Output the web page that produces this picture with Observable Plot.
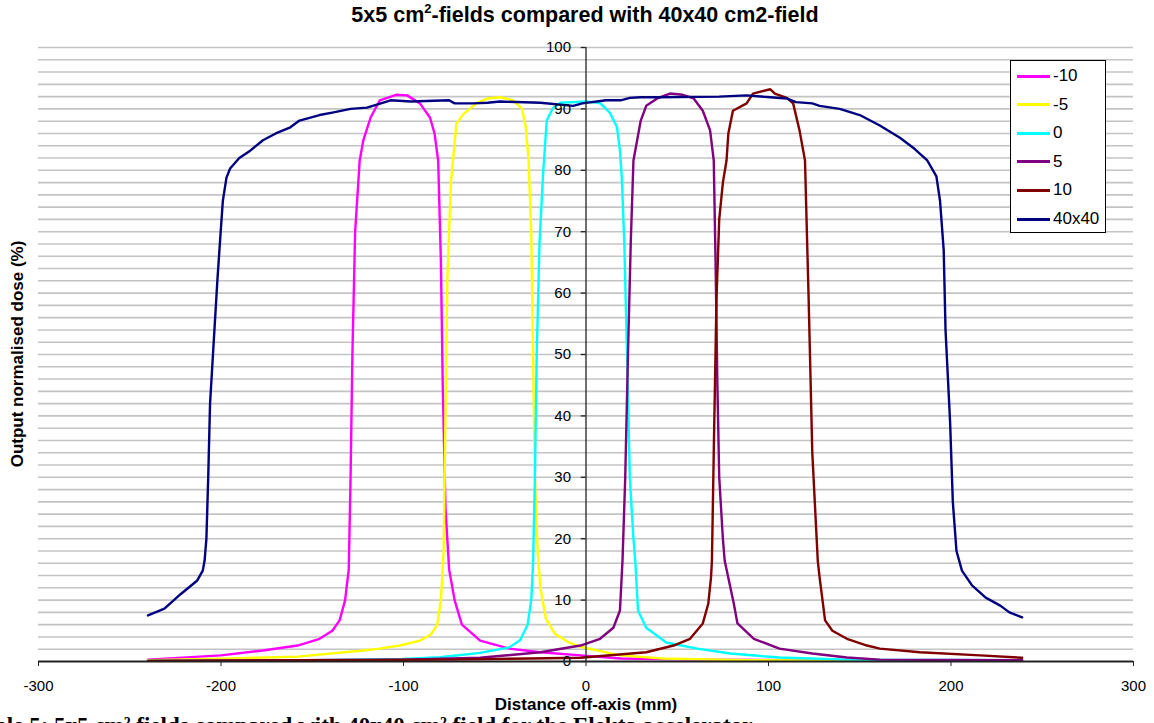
<!DOCTYPE html>
<html><head><meta charset="utf-8">
<script src="https://cdn.jsdelivr.net/npm/d3@7"></script>
<script src="https://cdn.jsdelivr.net/npm/@observablehq/plot@0.6"></script>
<style>
html,body{margin:0;padding:0;background:#fff;}
body{width:1154px;height:723px;overflow:hidden;font-family:"Liberation Sans",Arial,sans-serif;}
#wrap{position:relative;width:1154px;height:723px;overflow:hidden;}
#chart{position:absolute;left:0;top:0;}
#title{position:absolute;left:585px;top:3px;transform:translateX(-50%);font-weight:bold;font-size:21.5px;white-space:nowrap;color:#000;}
#title sup{font-size:13px;vertical-align:9px;line-height:0;}
#xlabel{position:absolute;left:586px;top:704px;transform:translate(-50%,-50%);font-weight:bold;font-size:17px;line-height:17px;white-space:nowrap;}
#ylabel{position:absolute;left:18px;top:354px;transform:translate(-50%,-50%) rotate(-90deg);font-weight:bold;font-size:17px;white-space:nowrap;}
#legend{position:absolute;left:1010px;top:60px;width:94px;height:171px;border:1px solid #000;background:#fff;box-sizing:content-box;}
.lrow{position:absolute;left:0;height:20px;display:flex;align-items:center;}
.lline{width:33px;height:3px;margin-left:6px;margin-right:3px;}
.ltext{font-size:17px;line-height:20px;}
#caption{position:absolute;left:-6px;top:714px;font-family:"Liberation Serif","DejaVu Serif",serif;font-weight:bold;font-size:23px;line-height:23px;white-space:nowrap;}
</style></head><body>
<div id="wrap">
<div id="chart"></div>
<div id="title">5x5 cm<sup>2</sup>-fields compared with 40x40 cm2-field</div>
<div id="caption">ble 5: 5x5 cm² fields compared with 40x40 cm² field for the Elekta accelerator</div>
<div id="xlabel">Distance off-axis (mm)</div>
<div id="ylabel">Output normalised dose (%)</div>
<div id="legend"></div>
</div>
<script>
// Series names and colours
const seriesNames = ["-10", "-5", "0", "5", "10", "40x40"];
const seriesColors = ["#ff00ff", "#ffff00", "#00ffff", "#800080", "#800000", "#000080"];

// Tick labels
const xTicks = [-300, -200, -100, 0, 100, 200, 300];
const yTicks = [0, 10, 20, 30, 40, 50, 60, 70, 80, 90, 100];
const yGrid = [2,4,6,8,10,12,14,16,18,20,22,24,26,28,30,32,34,36,38,40,42,44,46,48,50,52,54,56,58,60,62,64,66,68,70,72,74,76,78,80,82,84,86,88,90,92,94,96,98,100];

// -10 (magenta)
const xM10 = [-240,-200,-177,-158,-146,-139,-135,-132,-130,-129,-128,-126.5,-124,-122,-118,-113,-104,-98,-91,-85.5,-83,-81,-79.5,-78.5,-77,-75,-72,-68,-58,-42,-25,-3,19,62,117,239];
const yM10 = [0.3,1.0,1.8,2.6,3.7,5,6.7,10,15,30,50,70,81.6,84.9,88.6,91.4,92.3,92.2,90.9,88.6,86,81.6,65,45,25,15,10,6,3.4,2.1,1.5,1.0,0.5,0.3,0.2,0.1];

// -5 (yellow)
const xM5 = [-240,-195,-158,-122,-113,-102,-91,-85,-81.5,-79.5,-78,-77,-76,-74,-71,-67,-60,-54,-47,-40,-35,-33,-31.5,-30,-29,-28,-26.5,-25,-22,-17,-10,-3,6,19,42,88,150,239];
const yM5 = [0.2,0.5,0.8,1.8,2.1,2.6,3.4,4.4,6,10,18,40,62,78,87.6,89.2,90.9,91.7,91.9,91.4,90,87,82,70,50,30,18,12,7,4.5,3.2,2.4,1.8,1.0,0.5,0.2,0.15,0.1];

// 0 (cyan)
const xZ0 = [-240,-150,-100,-80,-58,-42,-36,-32,-30,-29,-28,-27,-25.5,-23.5,-21.5,-18,-14,0.5,8,13,17,18.6,19.7,21,22.5,24,26,27,28.5,33,44,61,79,106,143,239];
const yZ0 = [0.1,0.2,0.4,0.7,1.4,2.3,3.5,6,10,16,30,50,68,79.5,88.1,90.2,91,91.2,90.9,89.4,87,83.2,78.3,68,50,30,20,16.4,8.3,5.5,3.1,2.1,1.3,0.65,0.3,0.2];

// 5 (purple)
const xP5 = [-240,-100,-58,-25,-3,7.7,15,18.6,20,21.5,23,24.5,26,30,33,39,46,53,59,64,68,70,71,72,73,75,76,81,83,92,106,124,143,161,239];
const yP5 = [0.1,0.3,0.6,1.5,2.6,3.7,5.5,8.3,16.4,30,50,68,81.6,88.1,90.5,91.7,92.5,92.3,91.7,89.7,86.5,81.6,65,45,30,20,16.4,9.4,6.2,3.7,2.1,1.3,0.65,0.3,0.2];

// 10 (dark red)
const xP10 = [-240,-160,-75,-31,-3,33,48,57,64,67,68.5,69,70,71.5,73,75,77,78,80.5,88,91.5,101,103.5,110,113.5,117,120,122,124,127,128,131,135,143,154,161,183,216,239];
const yP10 = [0.1,0.2,0.3,0.5,0.6,1.5,2.6,3.7,6.2,9.4,13.7,16.4,34,59,72,78,81.6,86,89.7,90.9,92.5,93.2,92.5,91.8,90.9,86.5,81.6,59,34,16.4,13.7,6.7,5,3.7,2.6,2.1,1.5,1.0,0.6];

// 40x40 (navy)
const xF40 = [-240,-231,-222,-213,-210,-209,-208,-207,-206,-204,-202,-200.5,-199,-197,-195,-190,-184,-177,-170,-162,-157,-146,-139,-129,-120,-107,-96,-75,-72,-62,-54,-47,-25,-7,-2,11,19,24,30,40,73,88,101,110,115,124,128,139,150,161,172,180,187,192,194,196,197,199.5,201,203,206,211.5,219,227,232,239];
const yF40 = [7.5,8.6,11,13.2,14.8,16.4,20,30,42,52,62,68.6,75,78.8,80.3,82,83.2,84.9,86,87,88.1,89,89.4,90,90.2,91.4,91.2,91.4,90.9,90.9,91,91.2,91,90.5,90.9,91.4,91.4,91.8,91.9,91.9,92,92.2,91.9,91.7,91.1,90.9,90.5,90,89,87.3,85.3,83.5,81.6,79,75,67,54,39,26,18,14.8,12.4,10.4,9.1,8,7.2];

const seriesX = [xM10, xM5, xZ0, xP5, xP10, xF40];
const seriesY = [yM10, yM5, yZ0, yP5, yP10, yF40];

const rows = [];
seriesNames.forEach((name, i) => {
  const xs = seriesX[i], ys = seriesY[i];
  if (xs.length !== ys.length) console.error("length mismatch", name, xs.length, ys.length);
  const n = Math.min(xs.length, ys.length);
  for (let k = 0; k < n; k++) rows.push({series: name, x: xs[k], y: ys[k]});
});

const chart = Plot.plot({
  width: 1154,
  height: 700,
  marginLeft: 38,
  marginRight: 21,
  marginTop: 47,
  marginBottom: 39,
  style: {fontFamily: "Liberation Sans, Arial, sans-serif", fontSize: "15px", color: "#000", background: "transparent"},
  x: {domain: [-300, 300], axis: null},
  y: {domain: [0, 100], axis: null},
  color: {domain: seriesNames, range: seriesColors},
  marks: [
    Plot.ruleY(yGrid, {stroke: "#c4c4c4", strokeWidth: 1.6}),
    ...seriesNames.map(name => Plot.line(rows.filter(d => d.series === name), {x: "x", y: "y", stroke: "series", strokeWidth: 2.4, curve: "linear"})),
    Plot.ruleX([0], {y1: 0, y2: 100, stroke: "#222", strokeWidth: 1.3}),
    Plot.ruleY(yTicks, {x1: 0, x2: -2.6, stroke: "#222", strokeWidth: 1.3}),
    Plot.text(yTicks, {x: 0, y: d => d, text: d => String(d), textAnchor: "end", dx: -15, fontSize: 15, fill: "#000"}),
    Plot.ruleY([0], {stroke: "#222", strokeWidth: 1.8}),
    Plot.axisX(xTicks, {tickSize: 5, tickPadding: 14, fontSize: 15, label: null, stroke: "#222", fill: "#000", tickFormat: d => String(d)})
  ]
});
document.getElementById("chart").appendChild(chart);

// Legend
const legend = document.getElementById("legend");
seriesNames.forEach((name, i) => {
  const row = document.createElement("div");
  row.className = "lrow";
  row.style.top = (5 + i * 28.6) + "px";
  const line = document.createElement("div");
  line.className = "lline";
  line.style.background = seriesColors[i];
  const txt = document.createElement("span");
  txt.className = "ltext";
  txt.textContent = name;
  row.appendChild(line);
  row.appendChild(txt);
  legend.appendChild(row);
});
</script>
</body></html>
